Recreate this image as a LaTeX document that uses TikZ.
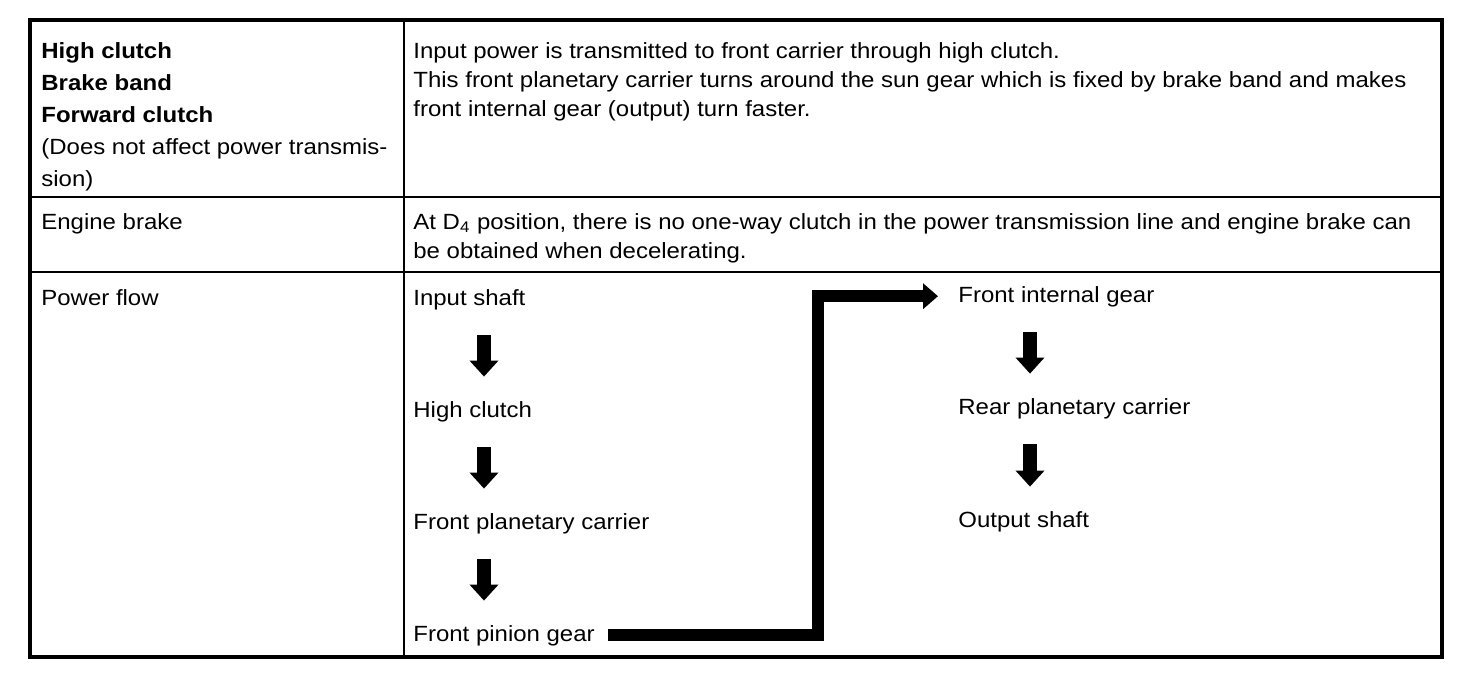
\documentclass[tikz,border=0pt]{standalone}
\usepackage{fontspec}
\setmainfont{Liberation Sans}[FakeStretch=1.09]
\usetikzlibrary{arrows.meta}
\tikzset{
	frame/.style={line width=2.2pt},
	rule/.style={line width=1.2pt},
	celltext/.style={inner sep=0pt, anchor=north west, align=left, font=\fontsize{11}{14.5}\selectfont},
	headtext/.style={celltext, font=\fontsize{11}{16}\selectfont},
	flowtext/.style={inner sep=0pt, anchor=base west, text height=8pt, text depth=2.2pt, font=\fontsize{11}{13}\selectfont},
	downarrow/.style={line width=7pt, -{Triangle[width=14pt,length=8pt]}, shorten <=12.8pt, shorten >=12pt},
	bigflow/.style={line width=6pt, miter limit=10, -{Triangle[width=12.5pt,length=7.5pt]}}
}
\begin{document}
\begin{tikzpicture}[x=0.5pt,y=-0.5pt]
		\useasboundingbox (0,0) rectangle (1472,674);
		% table
		\draw [frame] (30,20) rectangle (1442,657);
		\draw [rule] (404,20) -- (404,657);
		\draw [rule] (30,197) -- (1442,197);
		\draw [rule] (30,272) -- (1442,272);
		% left column
		\node [headtext] (parts) at (41,42) {\textbf{High clutch}\\\textbf{Brake band}\\\textbf{Forward clutch}\\(Does not affect power transmis-\\sion)};
		\node [headtext] (brake) at (41,213) {Engine brake};
		\node [headtext] (power) at (41,289) {Power flow};
		% right column
		\node [celltext] (desc) at (413,42) {Input power is transmitted to front carrier through high clutch.\\This front planetary carrier turns around the sun gear which is fixed by brake band and makes\\front internal gear (output) turn faster.};
		\node [celltext] (note) at (413,213) {At D\textsubscript{4} position, there is no one-way clutch in the power transmission line and engine brake can\\be obtained when decelerating.};
		% power flow
		\coordinate (colA) at (484,0);
		\coordinate (colB) at (1030,0);
		\coordinate (colC) at (818,0);
		\node [flowtext] (in)  at (413,305) {Input shaft};
		\node [flowtext] (hc)  at (413,417) {High clutch};
		\node [flowtext] (fpc) at (413,529) {Front planetary carrier};
		\node [flowtext] (fpg) at (413,641) {Front pinion gear};
		\node [flowtext] (fig) at (958,302) {Front internal gear};
		\node [flowtext] (rpc) at (958,414) {Rear planetary carrier};
		\node [flowtext] (out) at (958,527) {Output shaft};
		\draw [downarrow] (in.south -| colA) -- (hc.north -| colA);
		\draw [downarrow] (hc.south -| colA) -- (fpc.north -| colA);
		\draw [downarrow] (fpc.south -| colA) -- (fpg.north -| colA);
		\draw [downarrow] (fig.south -| colB) -- (rpc.north -| colB);
		\draw [downarrow] (rpc.south -| colB) -- (out.north -| colB);
		\coordinate (kink) at (fig.west -| colC);
		\draw [bigflow] ([xshift=6.5pt]fpg.east) -| (kink) -- ([xshift=-10pt]fig.west);
	\end{tikzpicture}
\end{document}
